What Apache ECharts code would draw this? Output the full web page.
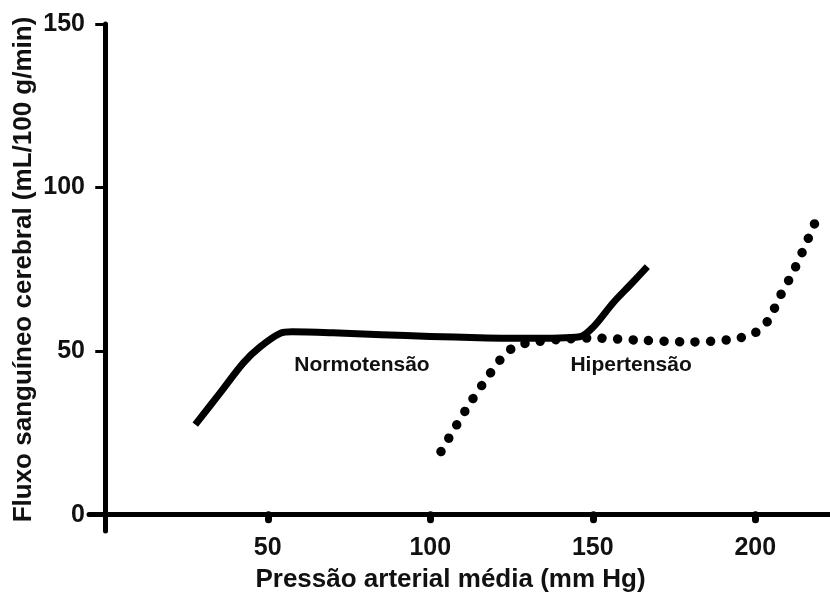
<!DOCTYPE html>
<html>
<head>
<meta charset="utf-8">
<script src="https://cdn.jsdelivr.net/npm/echarts@6/dist/echarts.min.js"></script>
<style>
html,body{margin:0;padding:0;background:#fff;}
#chart{width:830px;height:599px;}
</style>
</head>
<body>
<div id="chart"></div>
<script>
// Data
var xTicks = [50, 100, 150, 200];
var yTicks = [0, 50, 100, 150];

var normX = [27.7, 35.4, 42.5, 47.7, 53.8, 57.5, 70, 85, 100, 115, 130, 146, 150.2, 156.3, 161.5, 166.8];
var normY = [27.5, 37.3, 46.4, 51.3, 55.4, 55.9, 55.6, 55.0, 54.5, 54.1, 53.9, 54.4, 57.4, 64.8, 70.2, 75.8];

var hyperX = [103.3, 112.5, 122.5, 126, 130, 140, 150, 165, 180, 192, 199.4, 203.7, 207.7, 212.3, 218.5];
var hyperY = [19.3, 34.5, 48.6, 51.3, 52.5, 53.6, 54.0, 53.3, 52.8, 53.5, 55.3, 59.0, 66.9, 75.5, 89.5];

var annotNames = ['Normotensão', 'Hipertensão'];
var annotX = [79, 161.8];
var annotY = [45.8, 45.8];

var xName = 'Pressão arterial média (mm Hg)';
var yName = 'Fluxo sanguíneo cerebral (mL/100 g/min)';

function zip(a, b) { return a.map(function (v, i) { return [v, b[i]]; }); }

var FONT = '"Liberation Sans", Arial, sans-serif';
var chart = echarts.init(document.getElementById('chart'));
chart.setOption({
  animation: false,
  backgroundColor: '#ffffff',
  grid: { left: 89, right: 0, top: 24, bottom: 68, containLabel: false, outerBoundsMode: 'none' },
  xAxis: {
    type: 'value', min: -5, max: 223,
    axisLine: { onZero: true, lineStyle: { color: '#000', width: 5 } },
    axisTick: { customValues: xTicks, length: 5, lineStyle: { color: '#000', width: 7, cap: 'round' } },
    axisLabel: { customValues: xTicks, margin: 5, color: '#111', fontSize: 25, fontWeight: 'bold', fontFamily: FONT },
    splitLine: { show: false },
    name: xName, nameLocation: 'middle', nameGap: 36, nameMoveOverlap: false,
    nameTextStyle: { color: '#111', fontSize: 26, fontWeight: 'bold', fontFamily: FONT, padding: [0, 18, 0, 0] }
  },
  yAxis: {
    type: 'value', min: -5, max: 150,
    axisLine: { onZero: true, lineStyle: { color: '#000', width: 5 } },
    axisTick: { customValues: yTicks, length: 10, lineStyle: { color: '#000', width: 3 } },
    axisLabel: { customValues: yTicks, margin: 4, color: '#111', fontSize: 25, fontWeight: 'bold', fontFamily: FONT },
    splitLine: { show: false },
    name: yName, nameLocation: 'middle', nameGap: 52, nameRotate: 90, nameMoveOverlap: false,
    nameTextStyle: { color: '#111', fontSize: 26, fontWeight: 'bold', fontFamily: FONT, padding: [0, 0, 0, 16] }
  },
  series: [
    {
      name: 'Normotensão', type: 'line', data: zip(normX, normY),
      showSymbol: false, smooth: 0.3,
      lineStyle: { color: '#000', width: 7, cap: 'butt', join: 'round' }
    },
    {
      name: 'Hipertensão', type: 'line', data: zip(hyperX, hyperY),
      showSymbol: false, smooth: 0.3,
      lineStyle: { color: '#000', width: 9.5, type: [0.01, 15.5], cap: 'round' }
    },
    {
      type: 'scatter', symbolSize: 0, silent: true,
      itemStyle: { color: 'transparent', opacity: 1 },
      data: annotNames.map(function (n, i) { return { name: n, value: [annotX[i], annotY[i]] }; }),
      label: {
        show: true, position: 'inside', formatter: '{b}',
        color: '#111', fontSize: 21, fontWeight: 'bold', fontFamily: FONT,
        textBorderWidth: 0
      }
    }
  ]
});
</script>
</body>
</html>
